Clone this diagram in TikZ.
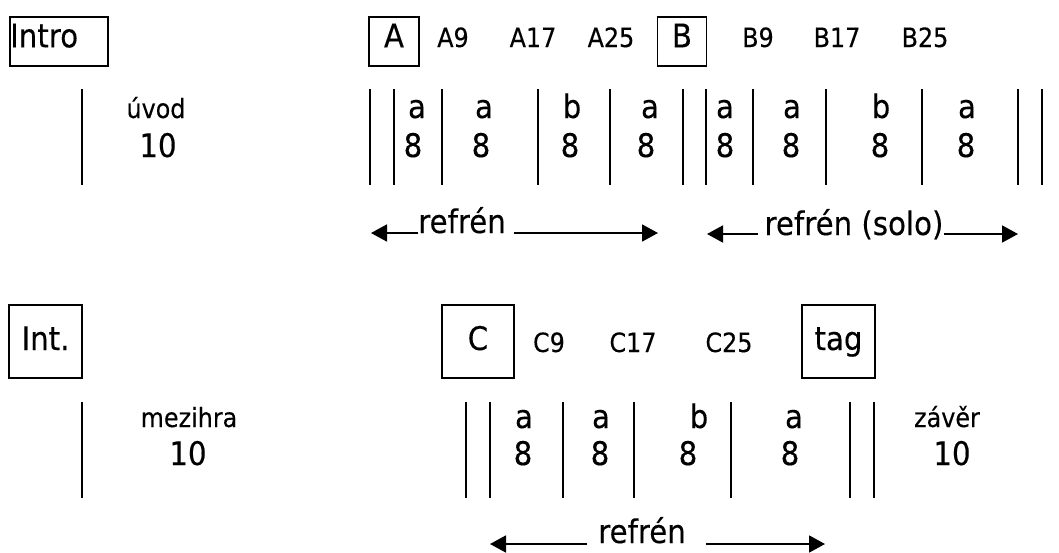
\documentclass[tikz,border=0pt]{standalone}
\usepackage{fontspec}
\setmainfont[FakeStretch=0.9,FakeBold=0.25]{DejaVu Sans}
\usetikzlibrary{arrows.meta}
\begin{document}
\begin{tikzpicture}[x=1pt,y=-1pt,
  big/.style={font=\fontsize{32.5}{36}\selectfont, inner sep=0pt, anchor=base},
  small/.style={font=\fontsize{26.5}{30}\selectfont, inner sep=0pt, anchor=base},
  topbox/.style={draw, line width=1.8pt, font=\fontsize{32.5}{36}\selectfont,
    text height=30pt, text depth=18.4pt, inner ysep=0pt, inner xsep=0pt, anchor=base},
  botbox/.style={draw, line width=1.8pt, font=\fontsize{32.5}{36}\selectfont,
    text height=45pt, text depth=28pt, inner ysep=0pt, inner xsep=0pt, anchor=base},
  bar/.style={line width=1.8pt},
  arr/.style={line width=1.8pt, -{Triangle[length=16pt,width=17pt]}}]
\useasboundingbox (0,0) rectangle (1059,552);

% ---- row 1 boxes and labels
\node[topbox, anchor=base west, text width=97.4pt, align=left] (intro) at (9.3,47.3) {Intro};
\node[topbox, minimum width=49.4pt] (A) at (394,47.3) {A};
\node[topbox, minimum width=49pt] (B) at (682,47.3) {B};
\foreach \x/\t/\n in {453/A9/a9,533/A17/a17,611/A25/a25,758/B9/b9,837/B17/b17,925/B25/b25}
  \node[small] (\n) at (\x,47) {\t};

% ---- row 1 bars
\foreach \x in {82,370,394,442,538,610,683,706,753,826,922,1018,1042}
  \draw[bar] (\x,89) -- (\x,185);

% ---- row 1 contents
\node[small] (uvod) at (156,118) {úvod};
\node[big] (uvodn) at (158,157) {10};
\foreach \xa/\xn/\l/\n in {417/413/a/r1a,484/481/a/r1b,572/570/b/r1c,650/646/a/r1d,
                          725/725/a/r1e,792/791/a/r1f,881/880/b/r1g,967/966/a/r1h}{
  \node[big] (\n l) at (\xa,118) {\l};
  \node[big] (\n n) at (\xn,157) {8};
}

% ---- row 1 arrows
\node[big] (ref1) at (462,233) {refrén};
\coordinate (ref1a) at (418,233);
\coordinate (ref1b) at (371,233);
\coordinate (ref1c) at (514,233);
\coordinate (ref1d) at (658,233);
\draw[arr] (ref1a) -- (ref1b);
\draw[arr] (ref1c) -- (ref1d);

\node[big] (ref2) at (854,235) {refrén (solo)};
\coordinate (ref2a) at (758,234);
\coordinate (ref2b) at (707,234);
\coordinate (ref2c) at (944,234);
\coordinate (ref2d) at (1018,234);
\draw[arr] (ref2a) -- (ref2b);
\draw[arr] (ref2c) -- (ref2d);

% ---- row 2 boxes and labels
\node[botbox, minimum width=73pt] (int) at (45.5,350) {Int.};
\node[botbox, minimum width=72pt] (C) at (478,350) {C};
\node[botbox, minimum width=73pt] (tag) at (838.5,350) {tag};
\foreach \x/\t/\n in {549/C9/c9,633/C17/c17,729/C25/c25}
  \node[small] (\n) at (\x,352) {\t};

% ---- row 2 bars
\foreach \x in {82,466,490,563,634,731,850,874}
  \draw[bar] (\x,402) -- (\x,498);

% ---- row 2 contents
\node[small] (mez) at (189,427) {mezihra};
\node[big] (mezn) at (188,465) {10};
\foreach \xa/\xn/\l/\n in {524/523/a/r2a,601/600/a/r2b,699/688/b/r2c,794/790/a/r2d}{
  \node[big] (\n l) at (\xa,428) {\l};
  \node[big] (\n n) at (\xn,465) {8};
}
\node[small] (zav) at (947,427) {závěr};
\node[big] (zavn) at (952,465) {10};

% ---- row 2 arrow
\node[big] (ref3) at (642,543) {refrén};
\coordinate (ref3a) at (587,544);
\coordinate (ref3b) at (490,544);
\coordinate (ref3c) at (706,544);
\coordinate (ref3d) at (825,544);
\draw[arr] (ref3a) -- (ref3b);
\draw[arr] (ref3c) -- (ref3d);
\end{tikzpicture}
\end{document}
